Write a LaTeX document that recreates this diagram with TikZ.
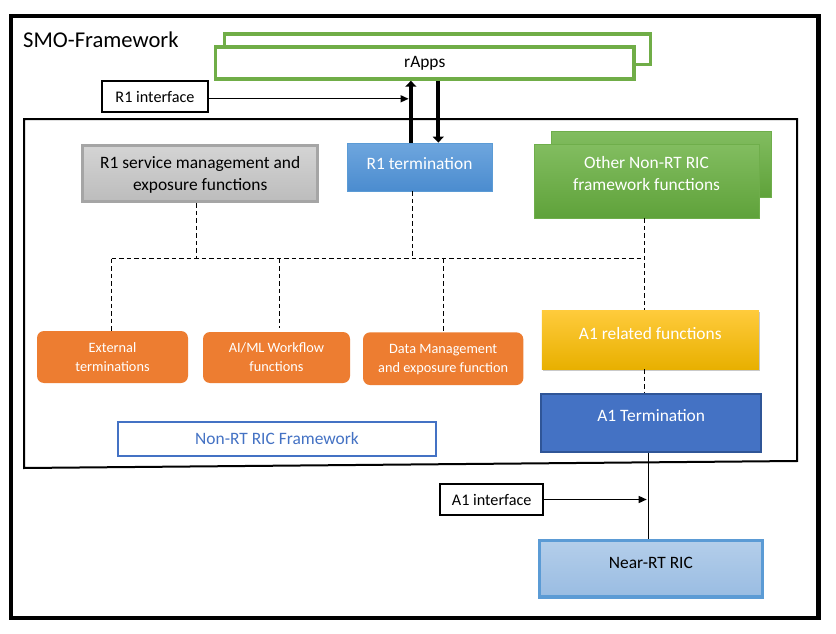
\documentclass[tikz,border=0pt]{standalone}
\usepackage{fontspec}
\setmainfont{Carlito}
\usetikzlibrary{arrows.meta,shadows}

\definecolor{appgreen}{HTML}{70AD47}
\definecolor{svcgrayA}{HTML}{D4D4D4}
\definecolor{svcgrayB}{HTML}{BCBCBC}
\definecolor{svcedge}{HTML}{A5A5A5}
\definecolor{termblueA}{HTML}{6EA6DE}
\definecolor{termblueB}{HTML}{4B8CCF}
\definecolor{termedge}{HTML}{5B9BD5}
\definecolor{fwgreenA}{HTML}{82BD60}
\definecolor{fwgreenB}{HTML}{5FA23A}
\definecolor{fwedge}{HTML}{6FAE4B}
\definecolor{fnorange}{HTML}{ED7D31}
\definecolor{labelblue}{HTML}{4472C4}
\definecolor{goldA}{HTML}{FFCB3C}
\definecolor{goldB}{HTML}{E8B000}
\definecolor{a1blue}{HTML}{4472C4}
\definecolor{a1edge}{HTML}{2F5597}
\definecolor{ricblueA}{HTML}{B4CEEA}
\definecolor{ricblueB}{HTML}{99BCE2}
\definecolor{ricedge}{HTML}{5B9BD5}

\begin{document}
\begin{tikzpicture}[x=1pt,y=-1pt,
  sz/.style 2 args={minimum width=#1, minimum height=#2},
  box/.style={rectangle, inner sep=0pt, align=center},
  big/.style={font=\fontsize{17.4}{22.5}\selectfont},
  mid/.style={font=\fontsize{16.2}{19}\selectfont},
  small/.style={font=\fontsize{14.3}{19}\selectfont},
  ifbox/.style={box, draw=black, line width=2pt, fill=white, mid},
  dashline/.style={line width=1pt, dash pattern=on 4.5pt off 3pt},
  fnbox/.style={box, fill=fnorange, rounded corners=7pt, text=white, small},
  bigarrow/.style={line width=4pt, -{Triangle[length=6pt,width=11pt]}},
  thinarrow/.style={line width=1.4pt, -{Triangle[length=8pt,width=7pt]}},
]
\useasboundingbox (0,0) rectangle (836,634);
\fill[white] (0,0) rectangle (836,634);

% SMO outer frame and title
\node[box, draw=black, line width=4.5pt, sz={807.5}{602}] (smo) at (414.75,317) {};
\node[anchor=west, inner sep=0pt, font=\fontsize{22.6}{26}\selectfont] (smo-title) at (23,40) {SMO-Framework};

% Non-RT RIC framework outline (bottom edge slightly tilted)
\draw[line width=2pt] (24,119) -- (797,119) -- (797,461) -- (24,468) -- cycle;

% rApps (stacked)
\node[box, draw=appgreen, line width=3.5pt, fill=white, sz={426}{30.5}] (rapps-back) at (437.5,49.25) {};
\node[box, draw=appgreen, line width=3.5pt, fill=white, sz={418.5}{32}, big] (rapps) at (424.75,63) {rApps};

% R1 side
\node[ifbox, sz={106}{31}] (r1if) at (155,96.8) {R1 interface};
\node[box, draw=svcedge, line width=3pt, top color=svcgrayA, bottom color=svcgrayB, big, sz={235.3}{56.3}, text depth=0pt] (svc) at (200.2,173.7) {R1 service management and\\exposure functions};
\node[box, draw=termedge, line width=0.8pt, top color=termblueA, bottom color=termblueB, text=white, big, sz={145}{48}, text depth=8pt] (r1t) at (419.5,167) {R1 termination};

% Other framework functions (stacked)
\node[box, draw=fwedge, line width=0.8pt, top color=fwgreenA, bottom color=fwgreenB, sz={220}{66}] (other-back) at (661,164) {};
\node[box, draw=fwedge, line width=0.8pt, top color=fwgreenA, bottom color=fwgreenB, text=white, big, sz={225}{74}, text depth=15pt] (other) at (646.5,181) {Other Non-RT RIC\\framework functions};

% Function blocks
\node[fnbox, sz={151}{52}, text depth=0pt] (ext) at (112.5,357) {External\\terminations};
\node[fnbox, sz={147}{51}, text depth=0pt] (aiml) at (276.5,357.5) {AI/ML Workflow\\functions};
\node[fnbox, sz={160.3}{52.7}, text depth=0pt] (dm) at (443.2,358.7) {Data Management\\and exposure function};
\node[box, draw=labelblue, line width=2pt, text=labelblue, big, sz={318}{34}] (nrtlabel) at (277,439) {Non-RT RIC Framework};

% A1 side
\node[box, top color=goldA, bottom color=goldB, drop shadow={shadow xshift=1.5pt, shadow yshift=-2pt, opacity=0.35, fill=black!60}, text=white, big, sz={217}{59}, text depth=13pt] (a1rel) at (650.3,339.5) {A1 related functions};
\node[box, fill=a1blue, draw=a1edge, line width=1.5pt, text=white, big, sz={220}{58}, text depth=14pt] (a1t) at (651.2,422.8) {A1 Termination};
\node[box, draw=ricedge, line width=3.5pt, top color=ricblueA, bottom color=ricblueB, big, sz={222.8}{56.7}, text depth=12pt] (nrt) at (650.9,568.8) {Near-RT RIC};
\node[ifbox, sz={102.7}{30.4}] (a1if) at (491.7,499.5) {A1 interface};

% Dashed internal bus
\coordinate (busL) at (111.5,258.5);
\coordinate (busR) at (644.5,258.5);
\draw[dashline] (busL) -- (busR);
\draw[dashline] ([xshift=-3.7]svc.south) -- ([xshift=-3.7]svc.south |- busL);
\draw[dashline] ([xshift=-7]r1t.south) -- ([xshift=-7]r1t.south |- busL);
\draw[dashline] (busR |- other.south) -- (busR |- a1rel.north);
\draw[dashline] (busL) -- (busL |- ext.north);
\draw[dashline] ([xshift=3]aiml.north |- busL) -- ([xshift=3,yshift=4]aiml.north);
\draw[dashline] ([xshift=0.3]dm.north |- busL) -- ([xshift=0.3]dm.north);
\draw[dashline] ([xshift=-5.8]a1rel.south) -- ([xshift=-5.8]a1rel.south |- a1t.north);

% R1 connections
\draw[bigarrow] ([xshift=64.3]r1t.north west) -- ([xshift=64.3]r1t.north west |- rapps.south);
\draw[bigarrow] ([xshift=91.7]r1t.north west |- rapps.south) -- ([xshift=91.7]r1t.north west);
\draw[thinarrow] ([yshift=-2]r1if.east) -- ([xshift=62,yshift=-2]r1t.north west |- r1if.east);

% A1 connections
\draw[line width=1.5pt] ([xshift=-2.6]a1t.south) -- ([xshift=-2.6]a1t.south |- nrt.north);
\draw[thinarrow] (a1if.east) -- ([xshift=-4.5]a1t.south |- a1if.east);
\end{tikzpicture}
\end{document}
